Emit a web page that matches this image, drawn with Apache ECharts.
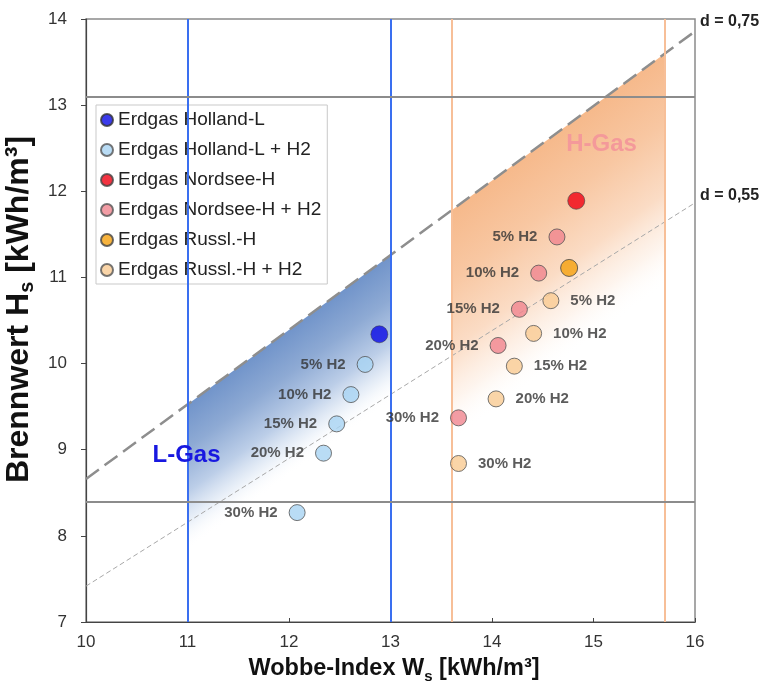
<!DOCTYPE html>
<html><head><meta charset="utf-8">
<script src="https://cdn.jsdelivr.net/npm/echarts@6/dist/echarts.min.js"></script>
<style>html,body{margin:0;padding:0;background:#fff}#c{width:773px;height:695px}</style>
</head><body><div id="c"></div>
<script>
// ---- data ----
const xTicks = [10, 11, 12, 13, 14, 15, 16];
const yTicks = [7, 8, 9, 10, 11, 12, 13, 14];
const seriesNames = ['Erdgas Holland-L', 'Erdgas Holland-L + H2', 'Erdgas Nordsee-H', 'Erdgas Nordsee-H + H2', 'Erdgas Russl.-H', 'Erdgas Russl.-H + H2'];
const hollandL = [[12.89, 10.34]];
const hollandH2 = [[12.75, 9.99], [12.61, 9.64], [12.47, 9.30], [12.34, 8.96], [12.08, 8.27]];
const nordseeH = [[14.83, 11.89]];
const nordseeH2 = [[14.64, 11.47], [14.46, 11.05], [14.27, 10.63], [14.06, 10.21], [13.67, 9.37]];
const russlH = [[14.76, 11.11]];
const russlH2 = [[14.58, 10.73], [14.41, 10.35], [14.22, 9.97], [14.04, 9.59], [13.67, 8.84]];
const h2Labels = ['5% H2', '10% H2', '15% H2', '20% H2', '30% H2'];
const lGasWobbe = [11, 13];
const hGasWobbe = [13.6, 15.7];
const hsLimits = [13.1, 8.4];
const relDensity = [0.75, 0.55];
const relDensityLabels = ['d = 0,75', 'd = 0,55'];
const regionNames = ['L-Gas', 'H-Gas'];
const regionLabelPos = [[10.99, 8.94], [15.08, 12.54]];
const regionLabelColors = ['#1818e0', '#f4999a'];

// ---- chart ----
const F = 'Arial, "Liberation Sans", sans-serif';
const xMin = xTicks[0], xMax = xTicks[xTicks.length - 1];
const yMin = yTicks[0], yMax = yTicks[yTicks.length - 1];
const hs = (w, d) => w * Math.sqrt(d);

// shaded band below the d=0.75 line, fading perpendicular to it
function regionSeries(wb, stops, fadeDrop) {
  return {
    type: 'custom', silent: true, z: 1, clip: true,
    data: [0],
    renderItem: function (params, api) {
      const topL = [wb[0], hs(wb[0], relDensity[0])];
      const topR = [wb[1], hs(wb[1], relDensity[0])];
      const pts = [topL, topR, [wb[1], topR[1] - fadeDrop - 1], [wb[0], topL[1] - fadeDrop - 1]].map(p => api.coord(p));
      const a = api.coord(topL), b = api.coord(topR);
      const below = api.coord([wb[0], topL[1] - fadeDrop]);
      const dx = b[0] - a[0], dy = b[1] - a[1];
      const len = Math.hypot(dx, dy);
      let nx = -dy / len, ny = dx / len;
      if (ny < 0) { nx = -nx; ny = -ny; }
      const dist = (below[1] - a[1]) * ny;
      return {
        type: 'polygon',
        shape: { points: pts },
        style: { fill: new echarts.graphic.LinearGradient(a[0], a[1], a[0] + nx * dist, a[1] + ny * dist, stops, true) }
      };
    }
  };
}

const ptLabel = (pos) => ({
  show: true, position: pos, distance: 11,
  formatter: p => h2Labels[p.dataIndex],
  fontFamily: F, fontWeight: 'bold', fontSize: 15, color: '#333'
});

const nameRich = (big, small, lh) => ({
  t: { fontFamily: F, fontSize: big, fontWeight: 'bold', color: '#111' },
  s: { fontFamily: F, fontSize: small, fontWeight: 'bold', color: '#111', verticalAlign: 'bottom', lineHeight: lh }
});

const chart = echarts.init(document.getElementById('c'));
chart.setOption({
  animation: false,
  backgroundColor: '#fff',
  grid: { left: 86, right: 78, top: 19, bottom: 73, show: true, borderColor: '#8a8a8a', borderWidth: 1.5,
          containLabel: false, outerBoundsMode: 'none' },
  legend: {
    data: seriesNames, orient: 'vertical', left: 96, top: 105,
    padding: [5, 6, 4, 4], itemGap: 10, itemWidth: 12, itemHeight: 12,
    backgroundColor: '#fff', borderColor: '#c9c9c9', borderWidth: 1,
    textStyle: { fontFamily: F, fontSize: 19, color: '#222', lineHeight: 20 },
    selectedMode: false
  },
  xAxis: {
    type: 'value', min: xMin, max: xMax, interval: 1,
    name: '{t|Wobbe-Index W}{s|s}{t| [kWh/m³]}', nameLocation: 'middle', nameGap: 32,
    nameTextStyle: { padding: [0, 0, 0, 7], rich: nameRich(23.5, 15, 30) },
    axisLine: { lineStyle: { color: '#444', width: 1.2 } },
    axisTick: { inside: true, length: 4, lineStyle: { color: '#444' } },
    axisLabel: { fontFamily: F, fontSize: 17, color: '#333', margin: 12 },
    splitLine: { show: false }
  },
  yAxis: {
    type: 'value', min: yMin, max: yMax, interval: 1,
    name: '{t|Brennwert H}{s|s}{t| [kWh/m³]}', nameLocation: 'middle', nameGap: 22,
    nameTextStyle: { padding: [0, 0, 0, 22], rich: nameRich(32, 20, 37) },
    axisLine: { lineStyle: { color: '#444', width: 1.2 } },
    axisTick: { inside: false, length: 5, lineStyle: { color: '#444' } },
    axisLabel: { fontFamily: F, fontSize: 17, color: '#333', margin: 19 },
    splitLine: { show: false }
  },
  series: [
    regionSeries(lGasWobbe, [
      { offset: 0, color: '#7194ca' }, { offset: 0.3, color: '#8eaad4' },
      { offset: 0.6, color: '#bccee8' }, { offset: 0.82, color: 'rgba(232,239,248,0.8)' },
      { offset: 1, color: 'rgba(255,255,255,0)' }], 1.7),
    regionSeries(hGasWobbe, [
      { offset: 0, color: '#f6b98b' }, { offset: 0.3, color: '#f8c7a2' },
      { offset: 0.6, color: '#fbdcc5' }, { offset: 0.82, color: 'rgba(253,240,230,0.7)' },
      { offset: 1, color: 'rgba(255,255,255,0)' }], 2.7),
    {
      type: 'line', silent: true, z: 2, data: [], symbol: 'none',
      markLine: {
        silent: true, symbol: 'none', label: { show: false }, animation: false,
        data: [
          ...lGasWobbe.map(v => ({ xAxis: v, lineStyle: { color: '#3a6ff0', width: 2, type: 'solid' } })),
          ...hGasWobbe.map(v => ({ xAxis: v, lineStyle: { color: '#f7bf98', width: 2, type: 'solid' } })),
          ...hsLimits.map(v => ({ yAxis: v, lineStyle: { color: '#8c8c8c', width: 2, type: 'solid' } }))
        ]
      }
    },
    {
      type: 'line', silent: true, z: 3, symbol: 'none',
      data: [[xMin, hs(xMin, relDensity[0])], [xMax, hs(xMax, relDensity[0])]],
      lineStyle: { color: '#8e8e8e', width: 2.5, type: [16, 7] },
      endLabel: { show: true, formatter: relDensityLabels[0], fontFamily: F, fontWeight: 'bold', fontSize: 16, color: '#222', distance: 5, offset: [0, -10] }
    },
    {
      type: 'line', silent: true, z: 3, symbol: 'none',
      data: [[xMin, hs(xMin, relDensity[1])], [xMax, hs(xMax, relDensity[1])]],
      lineStyle: { color: '#a8a8a8', width: 1, type: [5, 3] },
      endLabel: { show: true, formatter: relDensityLabels[1], fontFamily: F, fontWeight: 'bold', fontSize: 16, color: '#222', distance: 5, offset: [0, -7] }
    },
    { name: seriesNames[0], type: 'scatter', z: 5, symbolSize: 17, data: hollandL,
      itemStyle: { color: '#0a0ae6', borderColor: '#333', borderWidth: 0.6 } },
    { name: seriesNames[1], type: 'scatter', z: 5, symbolSize: 16, data: hollandH2,
      itemStyle: { color: '#a8d3f3', borderColor: '#555', borderWidth: 1 }, label: ptLabel('left') },
    { name: seriesNames[2], type: 'scatter', z: 5, symbolSize: 17, data: nordseeH,
      itemStyle: { color: '#f00012', borderColor: '#444', borderWidth: 0.8 } },
    { name: seriesNames[3], type: 'scatter', z: 5, symbolSize: 16, data: nordseeH2,
      itemStyle: { color: '#f0848e', borderColor: '#555', borderWidth: 1 }, label: ptLabel('left') },
    { name: seriesNames[4], type: 'scatter', z: 5, symbolSize: 17, data: russlH,
      itemStyle: { color: '#f5a00c', borderColor: '#444', borderWidth: 1 } },
    { name: seriesNames[5], type: 'scatter', z: 5, symbolSize: 16, data: russlH2,
      itemStyle: { color: '#f9cb92', borderColor: '#555', borderWidth: 1 }, label: ptLabel('right') },
    {
      type: 'custom', silent: true, z: 6, clip: false,
      data: regionLabelPos.map((p, i) => [p[0], p[1], i]),
      encode: { x: 0, y: 1 },
      renderItem: function (params, api) {
        const i = api.value(2);
        const c = api.coord([api.value(0), api.value(1)]);
        return {
          type: 'text', x: c[0], y: c[1],
          style: { text: regionNames[i], fill: regionLabelColors[i], font: 'bold 24px ' + F, align: 'center', verticalAlign: 'middle' }
        };
      }
    }
  ]
});
</script></body></html>
